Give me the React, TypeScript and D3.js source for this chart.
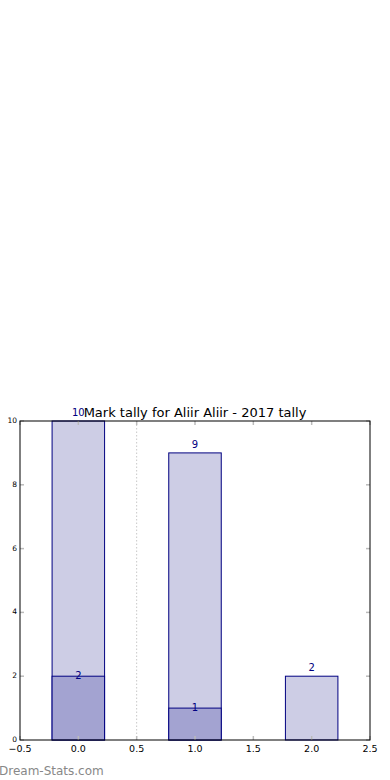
import React from "react";
import * as d3 from "d3";

const positions = [0, 1, 2];
const totalValues = [10, 9, 2];
const lowerValues = [2, 1, 0];
const xTicks = [-0.5, 0, 0.5, 1, 1.5, 2, 2.5];
const yTicks = [0, 2, 4, 6, 8, 10];
const titleText = "Mark tally for Aliir Aliir - 2017 tally";
const watermark = "Dream-Stats.com";

const W = 390, H = 780;
const left = 20, right = 370, top = 421, bottom = 740;
const barHalf = 0.225;
const font = "DejaVu Sans, sans-serif";

export default function App() {
  const x = d3.scaleLinear().domain([-0.5, 2.5]).range([left, right]);
  const y = d3.scaleLinear().domain([0, 10]).range([bottom, top]);
  const stroke = "#000080";
  const fmt = d3.format(".1f");
  return (
    <svg width={W} height={H} style={{ position: "absolute", left: 0, top: 0 }}>
      <rect x={0} y={0} width={W} height={H} fill="#fff" />
      <line x1={x(0.5)} x2={x(0.5)} y1={top} y2={bottom} stroke="#c8c8c8" strokeDasharray="1.5,2" strokeWidth={1} />
      {positions.map((p, i) => (
        <rect key={"t" + i} x={x(p - barHalf)} y={y(totalValues[i])} width={x(p + barHalf) - x(p - barHalf)} height={y(0) - y(totalValues[i])} fill="#cdcde5" stroke={stroke} strokeWidth={1} />
      ))}
      {positions.map((p, i) => lowerValues[i] > 0 ? (
        <rect key={"l" + i} x={x(p - barHalf)} y={y(lowerValues[i])} width={x(p + barHalf) - x(p - barHalf)} height={y(0) - y(lowerValues[i])} fill="#a3a3d1" stroke={stroke} strokeWidth={1} />
      ) : null)}
      {xTicks.map((t, i) => (
        <g key={"xt" + i}>
          <line x1={x(t)} x2={x(t)} y1={bottom} y2={bottom - 4} stroke="#bbb" strokeWidth={1.5} />
          <line x1={x(t)} x2={x(t)} y1={top} y2={top + 4} stroke="#bbb" strokeWidth={1.5} />
          <text x={x(t)} y={bottom + 12} fontSize={9.5} fontFamily={font} textAnchor="middle" fill="#000">{fmt(t).replace("-", "\u2212")}</text>
        </g>
      ))}
      {yTicks.map((t, i) => (
        <g key={"yt" + i}>
          <line x1={left} x2={left + 4} y1={y(t)} y2={y(t)} stroke="#bbb" strokeWidth={1.5} />
          <line x1={right} x2={right - 4} y1={y(t)} y2={y(t)} stroke="#bbb" strokeWidth={1.5} />
          <text x={left - 3} y={y(t) + 2} fontSize={7.5} fontFamily={font} textAnchor="end" fill="#000">{t}</text>
        </g>
      ))}
      <rect x={left} y={top} width={right - left} height={bottom - top} fill="none" stroke="#000" strokeWidth={1} />
      {positions.map((p, i) => (
        <text key={"vt" + i} x={x(p)} y={y(totalValues[i]) - 5} fontSize={10} fontFamily={font} textAnchor="middle" fill={stroke}>{totalValues[i]}</text>
      ))}
      {positions.map((p, i) => lowerValues[i] > 0 ? (
        <text key={"vl" + i} x={x(p)} y={y(lowerValues[i]) + 3} fontSize={10} fontFamily={font} textAnchor="middle" fill={stroke}>{lowerValues[i]}</text>
      ) : null)}
      <text x={195} y={417} fontSize={13} fontFamily={font} textAnchor="middle" fill="#000">{titleText}</text>
      <text x={-1} y={775} fontSize={12} fontFamily={font} fill="#888">{watermark}</text>
    </svg>
  );
}
